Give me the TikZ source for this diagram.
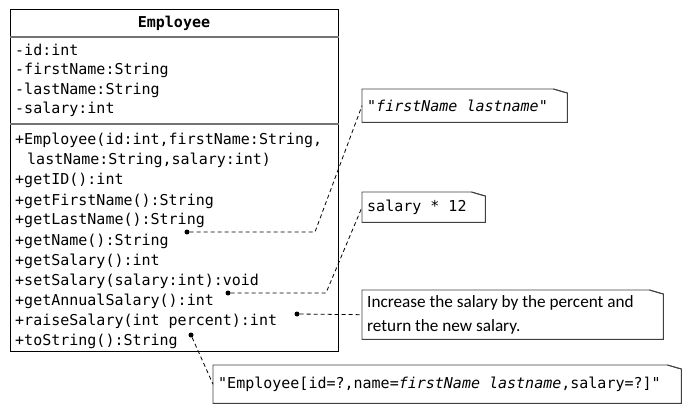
\documentclass[tikz,border=0pt]{standalone}
\usepackage{fontspec}
\setmainfont{Carlito}
\setmonofont{DejaVu Sans Mono}
\usepackage{tikz}
\usetikzlibrary{positioning}
\tikzstyle{classbox} = [draw, line width=1pt, anchor=north west, inner sep=0pt,
  minimum width=328pt, minimum height=342pt]
\tikzstyle{sepline} = [draw=black!55, line width=1.6pt]
\tikzstyle{member} = [anchor=base west, inner sep=0pt,
  font=\fontsize{15}{18}\selectfont\ttfamily]
\tikzstyle{note} = [anchor=north west, inner sep=0pt]
\tikzstyle{notetext} = [inner sep=0pt, align=left,
  font=\fontsize{15}{18}\selectfont\ttfamily]
\tikzstyle{noteline} = [draw=black!75, line width=0.9pt]
\tikzstyle{link} = [dash pattern=on 4pt off 3pt, line width=0.8pt]
\tikzstyle{dot} = [circle, fill=black, inner sep=0pt, minimum size=5pt]

\begin{document}
\begin{tikzpicture}[x=1pt, y=-1pt]
  \useasboundingbox (0,0) rectangle (693,414);

  \node[classbox] (employee) at (10,9) {};
  \node[font=\fontsize{15}{18}\selectfont\ttfamily\bfseries] (title) at (174,23) {Employee};
  \draw[sepline] (employee.west |- 0,37) -- (employee.east |- 0,37);
  \draw[sepline] (employee.west |- 0,124) -- (employee.east |- 0,124);

  \foreach \txt [count=\i from 0] in {-id:int, -firstName:String, -lastName:String, -salary:int}
    \node[member] (a\i) at (15, {55.5+19.5*\i}) {\txt};

  \foreach \txt [count=\i from 0] in {{+Employee(id:int,firstName:String,},
      {\hspace*{12pt}lastName:String,salary:int)}, +getID():int, +getFirstName():String,
      +getLastName():String, +getName():String, +getSalary():int,
      +setSalary(salary:int):void, +getAnnualSalary():int,
      +raiseSalary(int percent):int, +toString():String}
    \node[member] (m\i) at (15, {145+20*\i}) {\txt};

  \node[note, minimum width=205pt, minimum height=33pt] (n1) at (362,89) {};
  \node[note, minimum width=123pt, minimum height=30pt] (n2) at (362,192) {};
  \node[note, minimum width=301pt, minimum height=49pt] (n3) at (362,290) {};
  \node[note, minimum width=468pt, minimum height=38pt] (n4) at (213,365) {};

  \node[notetext, right=5pt of n1.west] (t1) {"\textit{firstName lastname}"};
  \node[notetext, right=5pt of n2.west] (t2) {salary * 12};
  \node[notetext, right=5pt of n3.west, font=\fontsize{17.2}{24}\selectfont\rmfamily] (t3)
    {Increase the salary by the percent and\\return the new salary.};
  \node[notetext, right=5pt of n4.west] (t4)
    {"Employee[id=?,name=\textit{firstName lastname},salary=?]"};

  \foreach \n in {n1, n2, n3, n4} {
    \draw[noteline] (\n.north west) -- ([xshift=-14pt]\n.north east)
      -- ([yshift=-4pt]\n.north east) -- (\n.south east) -- (\n.south west) -- cycle;
    \draw[noteline] ([xshift=-14pt]\n.north east) -- ([xshift=-4pt, yshift=-3pt]\n.north east)
      -- ([yshift=-4pt]\n.north east);
  }

  \node[dot] (d1) at (187,232) {};
  \node[dot] (d2) at (228,293) {};
  \node[dot] (d3) at (297,314) {};
  \node[dot] (d4) at (191,335) {};
  \coordinate (b1) at (315,232);
  \coordinate (b2) at (326,293);

  \draw[link] (d1) -- (b1) -- (n1.west);
  \draw[link] (d2) -- (b2) -- (n2.west);
  \draw[link] (d3) -- (n3.west);
  \draw[link] (d4) -- (n4.west);

\end{tikzpicture}
\end{document}
